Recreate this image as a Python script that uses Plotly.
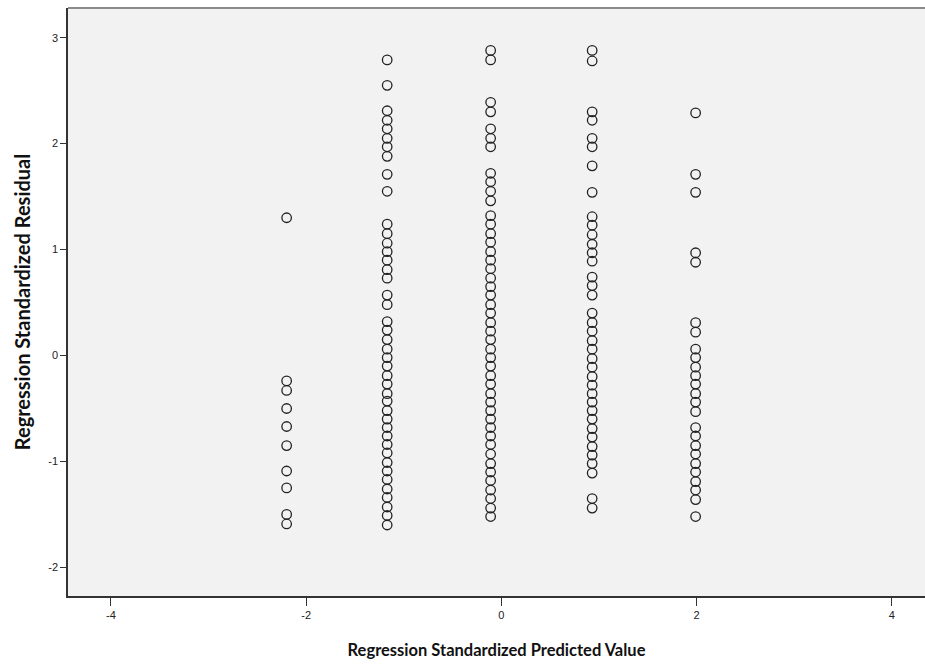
import plotly.graph_objects as go

# Predicted value (x) columns and their standardized residuals (y)
col_x = [-2.20, -1.17, -0.11, 0.93, 1.99]

res_c1 = [1.30, -0.24, -0.33, -0.50, -0.67, -0.85, -1.09, -1.25, -1.50, -1.59]
res_c2 = [2.79, 2.55, 2.31, 2.22, 2.14, 2.05, 1.97, 1.88, 1.71, 1.55,
          1.24, 1.15, 1.06, 0.98, 0.90, 0.81, 0.73, 0.57, 0.48,
          0.32, 0.24, 0.15, 0.06, -0.02, -0.10, -0.19, -0.27, -0.36, -0.43,
          -0.52, -0.60, -0.68, -0.76, -0.84, -0.92, -1.01, -1.09, -1.17,
          -1.26, -1.34, -1.43, -1.51, -1.60]
res_c3 = [2.88, 2.79, 2.39, 2.30, 2.14, 2.05, 1.97, 1.72, 1.64, 1.55, 1.46,
          1.32, 1.24, 1.15, 1.07, 0.98, 0.90, 0.82, 0.73, 0.65, 0.57, 0.48,
          0.40, 0.31, 0.23, 0.15, 0.06, -0.02, -0.10, -0.19, -0.27, -0.36,
          -0.44, -0.52, -0.60, -0.68, -0.76, -0.84, -0.93, -1.02, -1.10,
          -1.18, -1.27, -1.35, -1.44, -1.52]
res_c4 = [2.88, 2.78, 2.30, 2.22, 2.05, 1.97, 1.79, 1.54, 1.31, 1.23, 1.14,
          1.05, 0.97, 0.89, 0.74, 0.66, 0.57, 0.40, 0.31, 0.23, 0.14, 0.06,
          -0.03, -0.11, -0.20, -0.28, -0.36, -0.44, -0.52, -0.60, -0.69,
          -0.77, -0.86, -0.94, -1.02, -1.11, -1.35, -1.44]
res_c5 = [2.29, 1.71, 1.54, 0.97, 0.88, 0.31, 0.22, 0.06, -0.02, -0.11,
          -0.19, -0.27, -0.36, -0.44, -0.53, -0.68, -0.76, -0.85, -0.93,
          -1.02, -1.10, -1.19, -1.27, -1.36, -1.52]

x_ticks = [-4, -2, 0, 2, 4]
y_ticks = [-2, -1, 0, 1, 2, 3]

columns = [res_c1, res_c2, res_c3, res_c4, res_c5]
xs, ys = [], []
for cx, res in zip(col_x, columns):
    xs += [cx] * len(res)
    ys += res

fig = go.Figure()
fig.add_trace(go.Scatter(
    x=xs, y=ys, mode="markers",
    marker=dict(symbol="circle-open", size=9.5, color="#222",
                line=dict(width=1.3, color="#222")),
    hoverinfo="skip", showlegend=False,
))

axis_font = dict(family="Liberation Sans Narrow, Arial Narrow, sans-serif", size=11, color="#222")

fig.update_layout(
    width=925, height=668,
    margin=dict(l=68, r=0, t=8, b=72),
    paper_bgcolor="white", plot_bgcolor="#f2f2f2",
    xaxis=dict(range=[-4.44, 4.34], tickvals=x_ticks, ticktext=[str(v) for v in x_ticks],
               showgrid=False, zeroline=False, showline=True, linecolor="#333", linewidth=1.5,
               ticks="outside", ticklen=8, tickwidth=1.2, tickcolor="#333", tickfont=axis_font,
               title=dict(text="<b>Regression Standardized Predicted Value</b>",
                          font=dict(family="Lato, sans-serif", size=16.5, color="#111"), standoff=24)),
    yaxis=dict(range=[-2.27, 3.28], tickvals=y_ticks, ticktext=[str(v) for v in y_ticks],
               showgrid=False, zeroline=False, showline=True, linecolor="#333", linewidth=1.5,
               ticks="outside", ticklen=6, tickwidth=1.2, tickcolor="#333", tickfont=axis_font,
               title=dict(text="<b>Regression Standardized Residual</b>",
                          font=dict(family="Lato, sans-serif", size=20, color="#111"), standoff=12)),
    shapes=[dict(type="line", xref="paper", yref="paper", x0=0, x1=1, y0=1, y1=1,
                 line=dict(color="#8a8a8a", width=2))],
)

fig.write_html("out.html")
